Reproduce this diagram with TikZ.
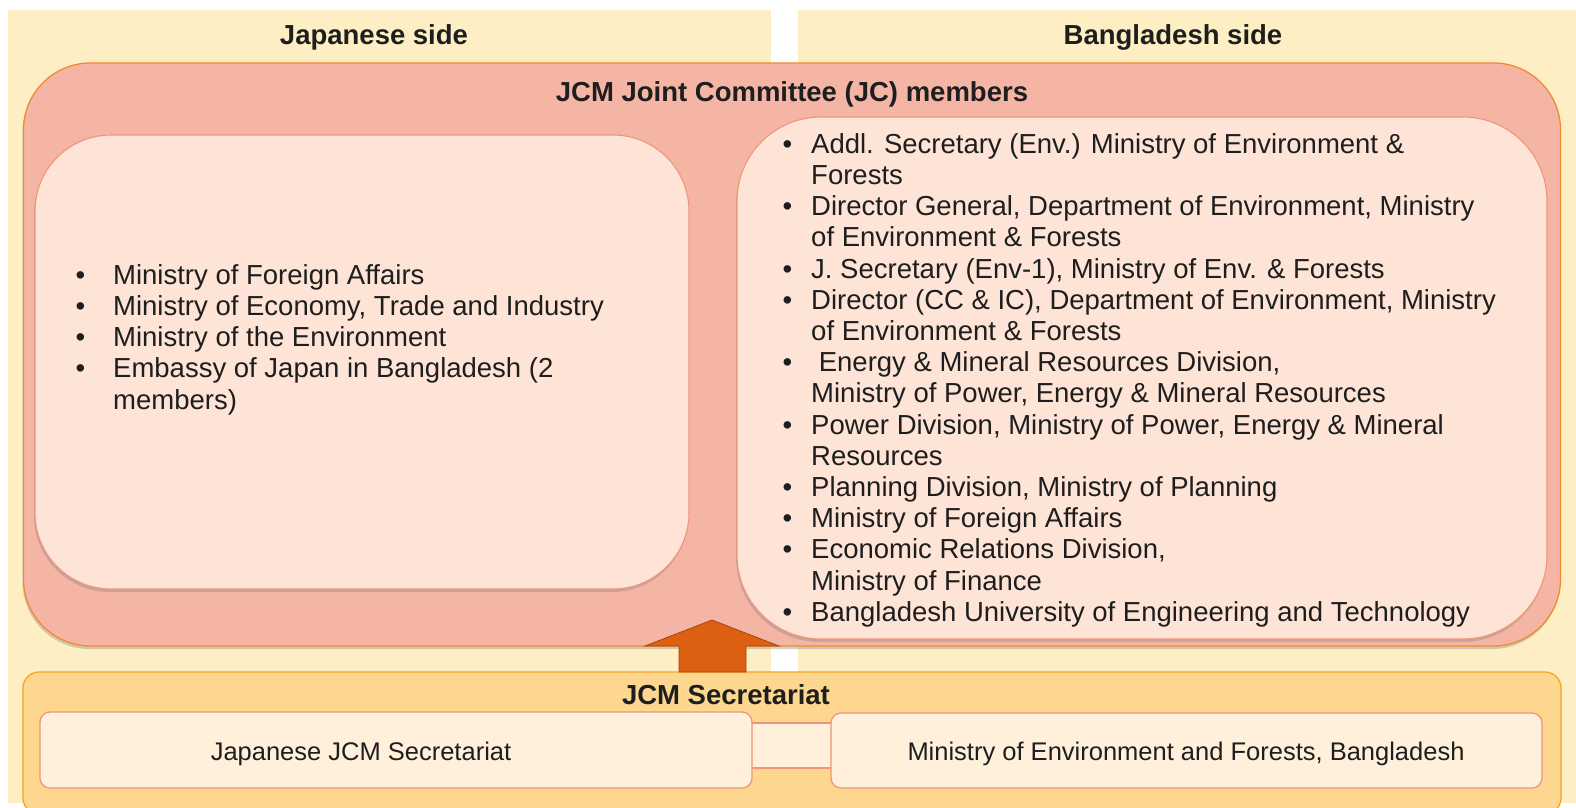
\documentclass[tikz,border=0pt]{standalone}
\usepackage{fontspec}
\setmainfont{Liberation Sans}
\usetikzlibrary{shadows}
\definecolor{cream}{HTML}{FDEEC4}
\definecolor{jcfill}{HTML}{F5B5A5}
\definecolor{jcdraw}{HTML}{F08A2E}
\definecolor{infill}{HTML}{FDE4D6}
\definecolor{indraw}{HTML}{F0957A}
\definecolor{secfill}{HTML}{FDD68F}
\definecolor{secdraw}{HTML}{F5A623}
\definecolor{boxfill}{HTML}{FEF0DA}
\definecolor{arrowfill}{HTML}{DD6012}
\definecolor{arrowdraw}{HTML}{A5450E}
\definecolor{txt}{HTML}{1E1E1E}
\newcommand\mybul[1]{\makebox[#1][l]{\textbullet}}
\begin{document}
\begin{tikzpicture}[x=1pt,y=-1pt,
  panel/.style={fill=cream, draw=none, inner sep=0pt},
  title/.style={text=txt, font=\fontsize{27.5}{31.2}\selectfont\bfseries, inner sep=0pt},
  listtext/.style={text=txt, font=\fontsize{27.5}{31.2}\selectfont, inner sep=0pt, anchor=west},
  boxtext/.style={text=txt, font=\fontsize{25.5}{29}\selectfont, inner sep=0pt},
  jcbox/.style={fill=jcfill, draw=jcdraw, line width=1.3pt, rounded corners=67pt, inner sep=0pt,
    drop shadow={shadow xshift=-1pt, shadow yshift=-3pt, fill=gray, opacity=0.35}},
  inbox/.style={fill=infill, draw=indraw, line width=1.1pt, inner sep=0pt,
    drop shadow={shadow xshift=-1pt, shadow yshift=-3pt, fill=gray, opacity=0.35}},
  secbox/.style={fill=secfill, draw=secdraw, line width=1.3pt, rounded corners=16pt, inner sep=0pt},
  smallbox/.style={fill=boxfill, draw=indraw, line width=1.3pt, rounded corners=10pt, inner sep=0pt},
  bigarrow/.style={fill=arrowfill, draw=arrowdraw, line width=0.8pt},
]
\useasboundingbox (0,0) rectangle (1576,808);
\fill[white] (0,0) rectangle (1576,808);

% side panels
\node[panel, minimum width=763pt, minimum height=793pt] (lp) at (389.5,406.5) {};
\node[panel, minimum width=778pt, minimum height=793pt] (rp) at (1187,406.5) {};
\node[title] (jt) at (374,37) {Japanese side};
\node[title] (bt) at (1173,37) {Bangladesh side};

% JC box
\node[jcbox, minimum width=1537pt, minimum height=583pt] (jc) at (792,354.5) {};
\node[title] (jctitle) at (792,94) {JCM Joint Committee (JC) members};

\node[inbox, rounded corners=76pt, minimum width=654pt, minimum height=454pt] (lin) at (362,362) {};
\node[inbox, rounded corners=84pt, minimum width=810pt, minimum height=522pt] (rin) at (1142,378) {};

\node[listtext] (llist) at (75.5,340.5) {\begin{tabular}{@{}l@{}l@{}}
\mybul{37.5pt} & Ministry of Foreign Affairs\\
\mybul{37.5pt} & Ministry of Economy, Trade and Industry\\
\mybul{37.5pt} & Ministry of the Environment\\
\mybul{37.5pt} & Embassy of Japan in Bangladesh (2\\
 & members)
\end{tabular}};

\node[listtext] (rlist) at (782.5,381) {\begin{tabular}{@{}l@{}l@{}}
\mybul{28.5pt} & Addl. Secretary (Env.) Ministry of Environment \&\\
 & Forests\\
\mybul{28.5pt} & Director General, Department of Environment, Ministry\\
 & of Environment \& Forests\\
\mybul{28.5pt} & J. Secretary (Env-1), Ministry of Env. \& Forests\\
\mybul{28.5pt} & Director (CC \& IC), Department of Environment, Ministry\\
 & of Environment \& Forests\\
\mybul{28.5pt} & \ Energy \& Mineral Resources Division,\\
 & Ministry of Power, Energy \& Mineral Resources\\
\mybul{28.5pt} & Power Division, Ministry of Power, Energy \& Mineral\\
 & Resources\\
\mybul{28.5pt} & Planning Division, Ministry of Planning\\
\mybul{28.5pt} & Ministry of Foreign Affairs\\
\mybul{28.5pt} & Economic Relations Division,\\
 & Ministry of Finance\\
\mybul{28.5pt} & Bangladesh University of Engineering and Technology
\end{tabular}};

% Secretariat
\node[secbox, minimum width=1538pt, minimum height=142pt] (sec) at (792,743) {};
\node[title] (sectitle) at (726,695) {JCM Secretariat};

\coordinate (barTL) at (748,723);
\coordinate (barBR) at (835,768);
\draw[fill=boxfill, draw=indraw, line width=1.3pt] (barTL) rectangle (barBR);

\node[smallbox, minimum width=712pt, minimum height=76pt] (jsec) at (396,750) {};
\node[smallbox, minimum width=711pt, minimum height=75pt] (bsec) at (1186.5,750.5) {};
\node[boxtext] (jsectext) at (361,754) {Japanese JCM Secretariat};
\node[boxtext] (bsectext) at (1186,754) {Ministry of Environment and Forests, Bangladesh};

% block arrow from Secretariat to JC
\draw[bigarrow] (679,672) -- (679,646) -- (645,646) -- (712,620) -- (779,646) -- (746,646) -- (746,672) -- cycle;
\end{tikzpicture}
\end{document}
